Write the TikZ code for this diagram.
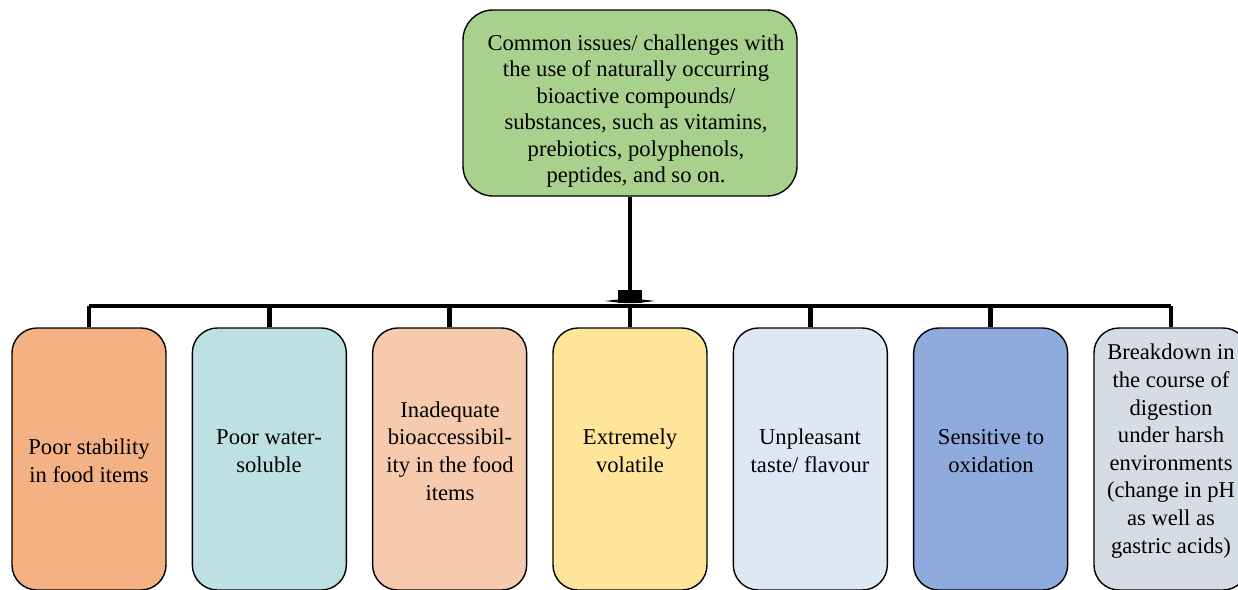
\documentclass[tikz,border=0pt]{standalone}
\usepackage{fontspec}
\setmainfont{Liberation Serif}
\newfontfamily\tnr{Liberation Serif}
\definecolor{ctop}{HTML}{A9D18E}
\definecolor{cA}{HTML}{F4B183}
\definecolor{cB}{HTML}{BDE0E3}
\definecolor{cC}{HTML}{F6CAAC}
\definecolor{cD}{HTML}{FFE599}
\definecolor{cE}{HTML}{DEE8F4}
\definecolor{cF}{HTML}{8FAADC}
\definecolor{cG}{HTML}{D6DCE5}
\tikzset{
  topbox/.style={draw=black, line width=1.4pt, fill=ctop, rounded corners=30pt,
    minimum width=334pt, minimum height=186pt},
  leaf/.style={draw=black, line width=1.4pt, rounded corners=25pt,
    minimum width=154pt, minimum height=262pt},
  txt/.style={align=center, font=\tnr\fontsize{22.6}{27.6}\selectfont, inner sep=0pt},
  toptxt/.style={align=center, font=\tnr\fontsize{22.6}{26.4}\selectfont, inner sep=0pt},
  conn/.style={line width=4.6pt, black}
}
\begin{document}
\begin{tikzpicture}[x=1pt,y=-1pt]
\useasboundingbox (0,0) rectangle (1238,589);
\clip (0,0) rectangle (1238,589);
\node[topbox] (top) at (630,103) {};
\node[toptxt] (toptxt) at (636,111) {Common issues/ challenges with\\the use of naturally occurring\\bioactive compounds/\\substances, such as vitamins,\\prebiotics, polyphenols,\\peptides, and so on.};
\foreach \i/\c [count=\k from 0] in {a/cA,b/cB,c/cC,d/cD,e/cE,f/cF,g/cG}{
  \node[leaf, fill=\c] (\i) at ({89+180.33*\k},459) {};
}
\node[txt] at (89,461) {Poor stability\\in food items};
\node[txt] at (269,451) {Poor water-\\soluble};
\node[txt] at (450,451) {Inadequate\\bioaccessibil-\\ity in the food\\items};
\node[txt] at (630,451) {Extremely\\volatile};
\node[txt] at (810,451) {Unpleasant\\taste/ flavour};
\node[txt] at (991,451) {Sensitive to\\oxidation};
\node[txt] at (1171,451) {Breakdown in\\the course of\\digestion\\under harsh\\environments\\(change in pH\\as well as\\gastric acids)};
\coordinate (busL) at (a.north |- 0,306);
\coordinate (busR) at (g.north |- 0,306);
\coordinate (tip) at (top.south |- 0,303);
\draw[conn] (busL) -- (busR);
\foreach \i in {a,b,c,d,e,f,g}{
  \draw[conn] (\i.north |- busL) -- (\i.north);
}
\draw[conn] (top.south) -- (tip);
\fill[black] ([xshift=-12pt,yshift=13pt]tip) rectangle ([xshift=12pt]tip);
\fill[black] ([xshift=-25pt,yshift=2pt]tip) .. controls ([yshift=5pt]tip) .. ([xshift=25pt,yshift=2pt]tip)
  .. controls ([yshift=-1pt]tip) .. cycle;
\end{tikzpicture}
\end{document}
